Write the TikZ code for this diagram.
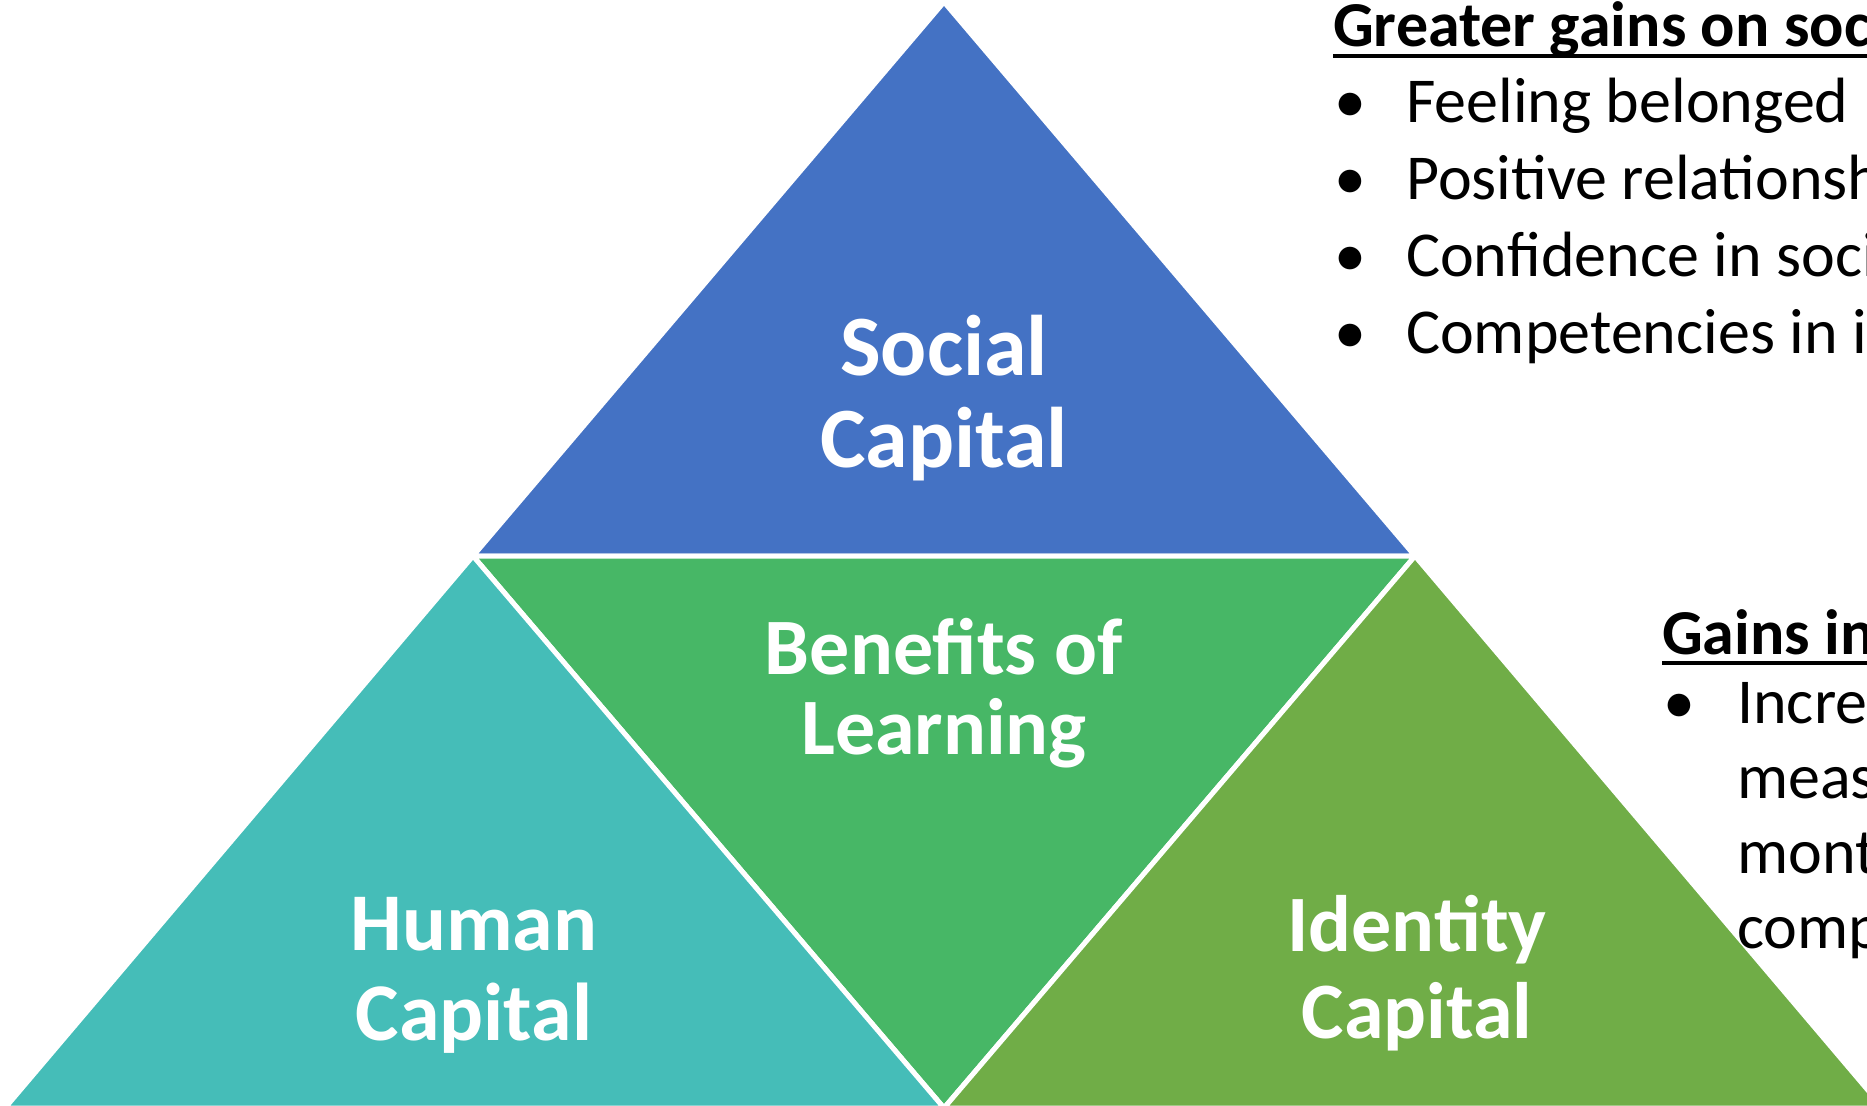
\documentclass[tikz,border=0pt]{standalone}
\usepackage{fontspec}
\setmainfont{Carlito}
\usepackage[dvipsnames]{xcolor}
\usetikzlibrary{positioning}

\definecolor{socBlue}{HTML}{4472C4}
\definecolor{benGreen}{HTML}{47B766}
\definecolor{humTeal}{HTML}{45BDB8}
\definecolor{ideGreen}{HTML}{70AD47}

\newcommand{\bit}[1][66pt]{\makebox[#1][l]{\textbullet}}

\begin{document}
\begin{tikzpicture}[x=1pt,y=-1pt,
    tri/.style={draw=white,line width=5pt,line join=round},
    cap node/.style={text=white,inner sep=0pt,align=center,anchor=base,font=\fontsize{80}{92}\selectfont\bfseries},
    head node/.style={inner sep=0pt,anchor=base west,font=\fontsize{64}{77}\selectfont\bfseries},
    list node/.style={inner sep=0pt,anchor=base west,align=left,font=\fontsize{64}{77}\selectfont},
    uline/.style={line width=3.5pt}]
    \useasboundingbox (0,0) rectangle (1867,1105);
    \clip (0,0) rectangle (1867,1105);

    % corners of the pyramid
    \coordinate (top) at (944,2);
    \coordinate (ml) at (473,556);
    \coordinate (mr) at (1415,556);
    \coordinate (bl) at (5,1108);
    \coordinate (bm) at (944,1108);
    \coordinate (br) at (1883,1108);

    \filldraw[tri,fill=socBlue] (top) -- (ml) -- (mr) -- cycle;
    \filldraw[tri,fill=benGreen] (ml) -- (mr) -- (bm) -- cycle;
    \filldraw[tri,fill=humTeal] (ml) -- (bl) -- (bm) -- cycle;
    \filldraw[tri,fill=ideGreen] (mr) -- (bm) -- (br) -- cycle;

    % base anchor sits on the last line
    \node[cap node,font=\fontsize{86}{92}\selectfont\bfseries] (soc) at (944,467) {Social\\Capital};
    \node[cap node,font=\fontsize{80}{80}\selectfont\bfseries] (ben) at (944,754) {Benefits of\\Learning};
    \node[cap node,font=\fontsize{82}{90}\selectfont\bfseries] (hum) at (474,1040) {Human\\Capital};
    \node[cap node,font=\fontsize{80}{87}\selectfont\bfseries] (ide) at (1417,1038) {Identity\\Capital};

    % text on the right
    \node[head node] (socHead) at (1333,47) {Greater gains on social capital};
    \draw[uline] ([yshift=-9pt]socHead.base west) -- ([yshift=-9pt]socHead.base east);
    \node[list node] (socList) at (1334,353) {\bit[72pt]Feeling belonged\\
        \bit[72pt]Positive relationships\\
        \bit[72pt]Confidence in social situations\\
        \bit[72pt]Competencies in interacting with others};

    \node[head node] (ideHead) at (1662,654) {Gains in identity capital};
    \draw[uline] ([yshift=-9pt]ideHead.base west) -- ([yshift=-9pt]ideHead.base east);
    \node[list node,font=\fontsize{64}{75}\selectfont] (ideList) at (1663,948) {\bit[74pt]Increased sense of purpose\\
        \hspace*{74pt}measured at three\\
        \hspace*{74pt}months, when\\
        \hspace*{74pt}compared with others};
\end{tikzpicture}
\end{document}
